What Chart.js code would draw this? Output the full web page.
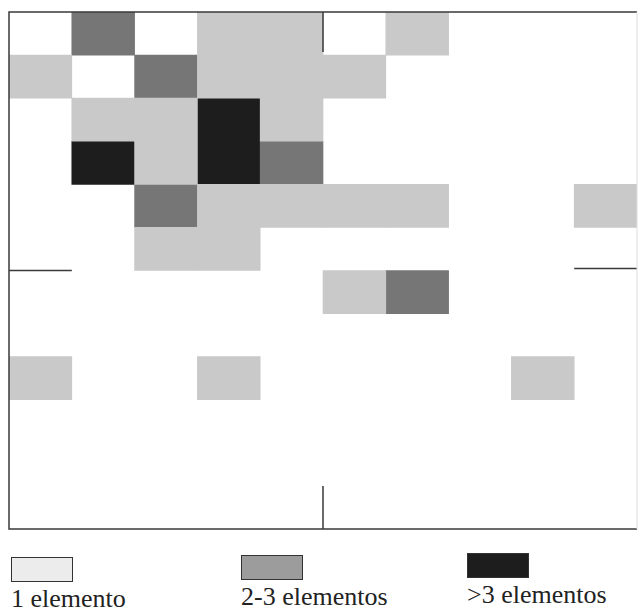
<!DOCTYPE html>
<html>
<head>
<meta charset="utf-8">
<script src="https://cdn.jsdelivr.net/npm/chart.js@4/dist/chart.umd.min.js"></script>
<style>
  body { margin: 0; background: #fff; width: 638px; height: 610px; overflow: hidden; position: relative; }
  #wrap { position: absolute; left: 0; top: 0; width: 638px; height: 535px; }
  .leg { position: absolute; font-family: "Liberation Serif", "Times New Roman", Times, serif; font-size: 26px; color: #222; white-space: nowrap; }
  .leg .sw { width: 62px; height: 25px; box-sizing: border-box; border: 1.5px solid #333; margin-bottom: 4px; }
</style>
</head>
<body>
<div id="wrap"><canvas id="grid"></canvas></div>
<div id="legend"></div>
<script>
// grid columns and rows
const columns = ['1', '2', '3', '4', '5', '6', '7', '8', '9', '10'];
const rowCount = 12;

// cells as [column index, row index] (row 0 = top)
const oneCells = [[3,0],[4,0],[6,0],[0,1],[3,1],[4,1],[5,1],[1,2],[2,2],[4,2],[2,3],
  [3,4],[4,4],[5,4],[6,4],[9,4],[2,5],[3,5],[5,6],[0,8],[3,8],[8,8]];
const twoThreeCells = [[1,0],[2,1],[4,3],[2,4],[6,6]];
const moreCells = [[3,2],[1,3],[3,3]];

const labels = ['1 elemento', '2-3 elementos', '>3 elementos'];
const cellColors = ['#c9c9c9', '#767676', '#1d1d1d'];
const swatchColors = ['#ececec', '#9c9c9c', '#1d1d1d'];

function toBars(cells) {
  return cells.map(c => ({ x: columns[c[0]], y: [c[1], c[1] + 1] }));
}

const frame = {
  id: 'frame',
  afterDatasetsDraw(chart) {
    const { ctx, chartArea: a, scales } = chart;
    const y = scales.y;
    const midX = (a.left + a.right) / 2;
    const midY = y.getPixelForValue(rowCount / 2);
    const cellH = Math.abs(y.getPixelForValue(1) - y.getPixelForValue(0));
    const cellW = (a.right - a.left) / columns.length;
    ctx.save();
    ctx.strokeStyle = '#3a3a3a';
    ctx.lineWidth = 1.5;
    ctx.beginPath();
    ctx.moveTo(a.right, a.top); ctx.lineTo(a.left, a.top);
    ctx.lineTo(a.left, a.bottom); ctx.lineTo(a.right, a.bottom);
    // centre marks
    ctx.moveTo(midX, a.top); ctx.lineTo(midX, a.top + cellH * 0.93);
    ctx.moveTo(midX, a.bottom); ctx.lineTo(midX, a.bottom - cellH);
    ctx.moveTo(a.left, midY); ctx.lineTo(a.left + cellW, midY);
    ctx.moveTo(a.right, midY - 2); ctx.lineTo(a.right - cellW, midY - 2);
    ctx.stroke();
    ctx.strokeStyle = '#dddddd';
    ctx.lineWidth = 1;
    ctx.beginPath();
    ctx.moveTo(a.right, a.top); ctx.lineTo(a.right, a.bottom);
    ctx.stroke();
    ctx.restore();
  }
};

const sets = [oneCells, twoThreeCells, moreCells];

new Chart(document.getElementById('grid'), {
  type: 'bar',
  data: {
    labels: columns,
    datasets: sets.map((cells, i) => ({
      label: labels[i],
      data: toBars(cells),
      backgroundColor: cellColors[i],
      borderWidth: 0,
      grouped: false,
      barPercentage: 1.0,
      categoryPercentage: 1.0
    }))
  },
  options: {
    responsive: true,
    maintainAspectRatio: false,
    animation: false,
    layout: { padding: { left: 9, top: 12, right: 1, bottom: 6 } },
    plugins: { legend: { display: false }, tooltip: { enabled: false } },
    scales: {
      x: { display: false, offset: true },
      y: { display: false, min: 0, max: rowCount, reverse: true }
    }
  },
  plugins: [frame]
});

// legend: swatch above text
const legendPos = [[11, 557], [241, 555], [467, 553]];
const legend = document.getElementById('legend');
labels.forEach((l, i) => {
  const d = document.createElement('div');
  d.className = 'leg';
  d.style.left = legendPos[i][0] + 'px';
  d.style.top = legendPos[i][1] + 'px';
  d.innerHTML = '<div class="sw" style="background:' + swatchColors[i] + '"></div>' +
    '<div style="line-height:26px">' + l.replace('>', '&gt;') + '</div>';
  legend.appendChild(d);
});
</script>
</body>
</html>
